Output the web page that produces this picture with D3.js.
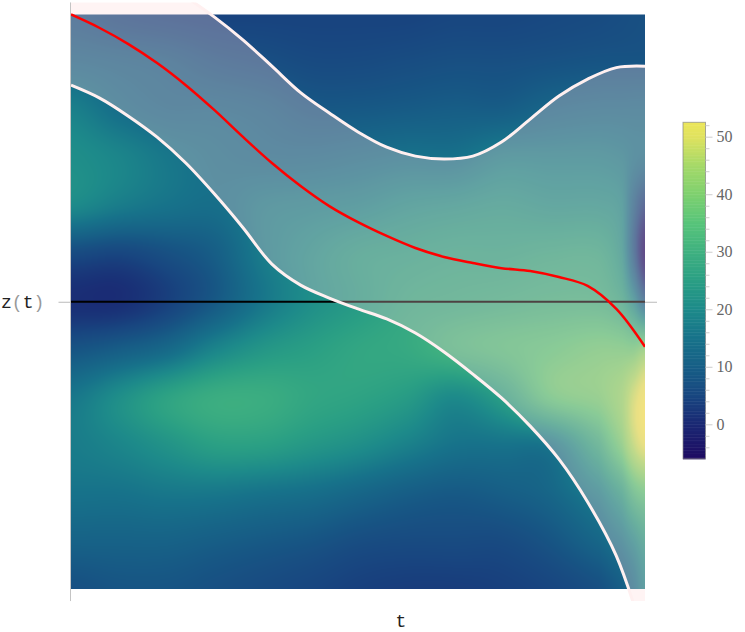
<!DOCTYPE html>
<html><head><meta charset="utf-8">
<style>html,body{margin:0;padding:0;background:#fff}svg{display:block}</style>
<script src="https://cdn.jsdelivr.net/npm/d3@7"></script></head>
<body><svg id="c" width="745" height="632"></svg>
<script>
// curve samples, t = k/20
const curveT = d3.range(21).map(k => k / 20);
const upperBand = [1.249,1.221,1.182,1.127,1.061,0.991,0.911,0.820,0.728,0.657,0.591,0.538,0.507,0.497,0.507,0.556,0.636,0.716,0.775,0.815,0.820];
const lowerBand = [0.754,0.709,0.646,0.573,0.483,0.375,0.257,0.131,0.058,0.013,-0.025,-0.060,-0.109,-0.175,-0.252,-0.335,-0.433,-0.548,-0.697,-0.885,-1.178];
const meanCurve = [1.000,0.953,0.897,0.831,0.754,0.667,0.573,0.483,0.403,0.333,0.277,0.229,0.187,0.156,0.135,0.117,0.107,0.086,0.055,-0.025,-0.157];
// heat field samples
const heatT = [0,0.0836,0.1672,0.2509,0.3345,0.4181,0.5017,0.5854,0.669,0.7526,0.8362,0.9199,0.9599,0.9808,1];
const heatZ = [1,0.8333,0.6667,0.5,0.3333,0.1667,0,-0.1667,-0.3333,-0.5,-0.6667,-0.8333,-1];
const heat = [
 [8,6,5,4.5,4.5,4.5,4.5,4.5,5,5,5.5,6,6.5,6.8,7],
 [12,11,10,8,7,6,6,6.5,7,7,7.5,8,8,8,8],
 [18,14,12,12,11,9,9,9.5,10,10,12,13,13,13,13],
 [21,19,16,14,13,13,14,15,15,18,18,18,17,15,14],
 [20,17,15,14,17,18,19,21,22,23,22,22,20,10,3],
 [6,5,7,10,17,21,24,25,26,26,27,27,22,8,-5],
 [1,1,4,9,16,21,24,27,28,29,30,30,27,20,10],
 [8,10,13,19,23,25,27,28,31,33,35,37,37,37,40],
 [16,21,26,29,29,27,26,24,20,25,35,38,42,48,52],
 [17,19,22,25,25,23,21,18,15,15,16,28,38,46,50],
 [15,15,16,16,15,14,12,10,9,10,12,18,25,32,35],
 [11,11,11,10,9,8,6.5,6,6,6,8,12,16,20,24],
 [7,8,8,7,6,5,4,3.5,3.5,4,5,7,10,14,19]
];
const colorStops = [-6,0,5,10,15,20,25,30,35,40,45,50,52.5];
const colorHex = ["#1e0a62","#1a2873","#184680","#175e86","#17728a","#1d8a8a","#2a9f84","#3fb080","#57c47a","#7ed06f","#a5d968","#dfe25f","#ece65a"];
const barTicks = [0,10,20,30,40,50];

const W=745,H=632;
const x=d3.scaleLinear().domain([0,1]).range([71,645]);
const y=d3.scaleLinear().domain([1,-1]).range([14.5,589]);
const col=d3.scaleLinear().domain(colorStops).range(colorHex).clamp(true);
const svg=d3.select('#c');

// sample the field
const idxT=d3.scaleLinear().domain(heatT).range(heatT.map((_,i)=>i));
const idxZ=d3.scaleLinear().domain(heatZ).range(heatZ.map((_,i)=>i));
const cr=(a,b,c,d,f)=>0.5*((2*b)+(c-a)*f+(2*a-5*b+4*c-d)*f*f+(3*b-a-3*c+d)*f*f*f);
function field(t,z){
  const u=idxT(t),v=idxZ(z);
  const i=Math.min(Math.floor(u),heatT.length-2),j=Math.min(Math.floor(v),heatZ.length-2);
  const fu=u-i,fv=v-j,vals=[];
  for(let r=-1;r<=2;r++){
    const row=heat[Math.max(0,Math.min(heat.length-1,j+r))];
    const g=k=>row[Math.max(0,Math.min(row.length-1,i+k))];
    vals.push(cr(g(-1),g(0),g(1),g(2),fu));
  }
  return cr(vals[0],vals[1],vals[2],vals[3],fv);
}
const pw=Math.round(x(1)-x(0)),ph=Math.round(y(-1)-y(1));
const cv=document.createElement('canvas');cv.width=pw;cv.height=ph;
const ctx=cv.getContext('2d');const im=ctx.createImageData(pw,ph);
for(let py=0;py<ph;py++)for(let px=0;px<pw;px++){
  const c=d3.rgb(col(field(x.invert(x(0)+px+.5),y.invert(y(1)+(py+.5)*(y(-1)-y(1))/ph))));
  const o=(py*pw+px)*4;im.data[o]=c.r;im.data[o+1]=c.g;im.data[o+2]=c.b;im.data[o+3]=255;
}
ctx.putImageData(im,0,0);
svg.append('image').attr('x',x(0)).attr('y',y(1)).attr('width',x(1)-x(0)).attr('height',y(-1)-y(1))
  .attr('preserveAspectRatio','none').attr('href',cv.toDataURL());

// left frame and ticks
const yAxisL=d3.axisLeft(y).tickValues([0]).tickSize(12).tickFormat('');
const gl=svg.append('g').attr('transform',`translate(${x(0)-0.5},0)`).call(yAxisL);
gl.select('.domain').remove();gl.selectAll('line').attr('stroke','#bbb');
svg.append('line').attr('x1',x(0)-0.5).attr('x2',x(0)-0.5).attr('y1',y(1.042)).attr('y2',y(-1.042)).attr('stroke','#c4c4c4');
const gr=svg.append('g').attr('transform',`translate(${x(1)},0)`).call(d3.axisRight(y).tickValues([0]).tickSize(12).tickFormat(''));
gr.select('.domain').remove();gr.selectAll('line').attr('stroke','#bbb');

// zero line
svg.append('line').attr('x1',x(0)).attr('x2',x(1)).attr('y1',y(0)).attr('y2',y(0)).attr('stroke','#000').attr('stroke-width',2);

// band
svg.append('clipPath').attr('id','cl').append('rect').attr('x',x(0)).attr('width',x(1)-x(0)).attr('y',y(1.042)).attr('height',y(-1.042)-y(1.042));
const gb=svg.append('g').attr('clip-path','url(#cl)');
const idx=curveT.map((_,i)=>i);
gb.append('path').attr('d',d3.area().x(i=>x(curveT[i])).y0(i=>y(lowerBand[i])).y1(i=>y(upperBand[i])).curve(d3.curveCatmullRom)(idx))
  .attr('fill','#ffdcdc').attr('fill-opacity',0.3);
const ln=a=>d3.line().x(i=>x(curveT[i])).y(i=>y(a[i])).curve(d3.curveCatmullRom)(idx);
[upperBand,lowerBand].forEach(a=>gb.append('path').attr('d',ln(a)).attr('fill','none').attr('stroke','#fff0f0').attr('stroke-width',3));
gb.append('path').attr('d',ln(meanCurve)).attr('fill','none').attr('stroke','#ff0000').attr('stroke-width',2.5);

// axis labels
const mono='"Liberation Mono",monospace';
const zl=svg.append('text').attr('x',1).attr('y',y(0)+6).attr('font-family',mono).attr('font-size',18).attr('fill','#222');
[['z','#222'],['(','#999'],['t','#222'],[')','#999']].forEach(([s,f])=>zl.append('tspan').attr('fill',f).text(s));
svg.append('text').attr('x',401).attr('y',627).attr('text-anchor','middle').attr('font-family',mono).attr('font-size',18).attr('fill','#222').text('t');

// colour bar
const by=d3.scaleLinear().domain([0,50]).range([424.3,136.7]);
const bx=683,bw=22.5;
const bTop=by(52.5),bBot=by(-6);
const barVals=d3.range(-6,52.5,0.25);
svg.append('g').selectAll('rect').data(barVals).join('rect')
  .attr('x',bx).attr('width',bw).attr('y',d=>by(d+0.25)).attr('height',d=>by(d)-by(d+0.25)+0.5).attr('fill',d=>col(d+0.125));
svg.append('rect').attr('x',bx).attr('y',bTop).attr('width',bw).attr('height',bBot-bTop).attr('fill','none').attr('stroke','#888').attr('stroke-opacity',0.7);
const gm=svg.append('g').attr('transform',`translate(${bx+bw},0)`).call(d3.axisRight(by).tickValues(d3.range(-4,53,2).filter(d=>d%10)).tickSize(4).tickFormat(''));
gm.select('.domain').remove();gm.selectAll('line').attr('stroke','#ccc');
const gM=svg.append('g').attr('transform',`translate(${bx+bw},0)`).call(d3.axisRight(by).tickValues(barTicks).tickSize(7).tickPadding(4));
gM.select('.domain').remove();gM.selectAll('line').attr('stroke','#ccc');
gM.selectAll('text').attr('font-family','"Liberation Serif",serif').attr('font-size',16).attr('fill','#666');
</script></body></html>
